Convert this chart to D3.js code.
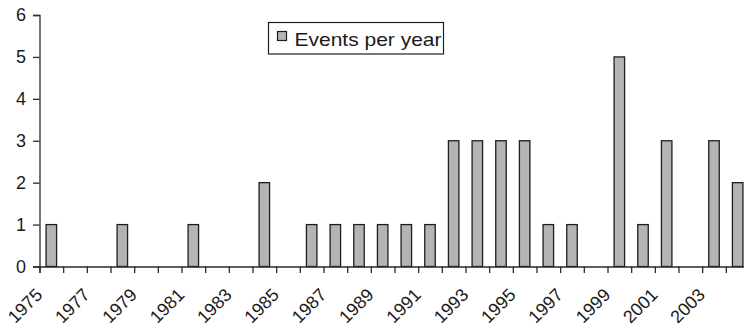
<!DOCTYPE html>
<html>
<head>
<meta charset="utf-8">
<script src="https://cdn.jsdelivr.net/npm/d3@7"></script>
<style>
  html, body { margin: 0; padding: 0; background: #fff; }
  svg { display: block; font-family: "Liberation Sans", Arial, Helvetica, sans-serif; }
</style>
</head>
<body>
<svg id="chart" width="744" height="329"></svg>
<script>
// Events recorded each year, 1975–2004
const years = d3.range(1975, 2005);
const events = [1, 0, 0, 1, 0, 0, 1, 0, 0, 2,
                0, 1, 1, 1, 1, 1, 1, 3, 3, 3,
                3, 1, 1, 0, 5, 1, 3, 0, 3, 2];
const yTicks = [0, 1, 2, 3, 4, 5, 6];
const xLabelYears = years.filter(y => (y - 1975) % 2 === 0);
const legendLabel = "Events per year";

const svg = d3.select("#chart");
const plotLeft = 39.5, plotRight = 749.5, plotTop = 15, plotBottom = 266.5;
const barWidth = 10.5;

// category boundaries: year yr spans [xEdge(yr), xEdge(yr + 1)]
const xEdge = d3.scaleLinear().domain([1975, 2005]).range([plotLeft, plotRight]);
const y = d3.scaleLinear().domain([0, 6]).range([plotBottom, plotTop]);

const axisColor = "#2b2b2b";

// bars
svg.append("g").selectAll("rect")
  .data(years.map((yr, i) => ({ yr, v: events[i] })).filter(d => d.v > 0))
  .join("rect")
  .attr("x", d => (xEdge(d.yr) + xEdge(d.yr + 1)) / 2 - barWidth / 2)
  .attr("width", barWidth)
  .attr("y", d => y(d.v))
  .attr("height", d => y(0) - y(d.v))
  .attr("fill", "#b4b4b4")
  .attr("stroke", "#1e1e1e")
  .attr("stroke-width", 1.3);

// y axis
const yAxis = svg.append("g")
  .attr("transform", `translate(${plotLeft},0)`)
  .call(d3.axisLeft(y).tickValues(yTicks).tickFormat(d3.format("d")).tickSize(6.5).tickPadding(7));
yAxis.select(".domain").attr("stroke", axisColor).attr("stroke-width", 1.3);
yAxis.selectAll(".tick line").attr("stroke", axisColor).attr("stroke-width", 1.3);
yAxis.selectAll(".tick text")
  .attr("fill", "#1a1a1a")
  .style("font-size", "18px");

// x axis: ticks at every category boundary
const xAxis = svg.append("g")
  .attr("transform", `translate(0,${plotBottom})`)
  .call(d3.axisBottom(xEdge).tickValues(d3.range(1975, 2006)).tickSize(6.5).tickFormat(""));
xAxis.select(".domain").attr("stroke", axisColor).attr("stroke-width", 1.3);
xAxis.selectAll(".tick line").attr("stroke", axisColor).attr("stroke-width", 1.3);

// rotated year labels on every other boundary
svg.append("g").selectAll("text")
  .data(xLabelYears)
  .join("text")
  .attr("transform", d => `translate(${xEdge(d) + 4},296) rotate(-45)`)
  .attr("text-anchor", "end")
  .attr("fill", "#1a1a1a")
  .style("font-size", "18px")
  .text(d => d);

// legend
const lg = svg.append("g");
lg.append("rect").attr("x", 268.5).attr("y", 22.5).attr("width", 175).attr("height", 31.5)
  .attr("fill", "#fff").attr("stroke", "#1e1e1e").attr("stroke-width", 1.2);
lg.append("rect").attr("x", 277.5).attr("y", 31.5).attr("width", 9).attr("height", 9)
  .attr("fill", "#b4b4b4").attr("stroke", "#1e1e1e").attr("stroke-width", 1.2);
lg.append("text").attr("x", 294.5).attr("y", 46).attr("fill", "#1a1a1a")
  .attr("textLength", 147).attr("lengthAdjust", "spacingAndGlyphs")
  .style("font-size", "19px").text(legendLabel);
</script>
</body>
</html>
